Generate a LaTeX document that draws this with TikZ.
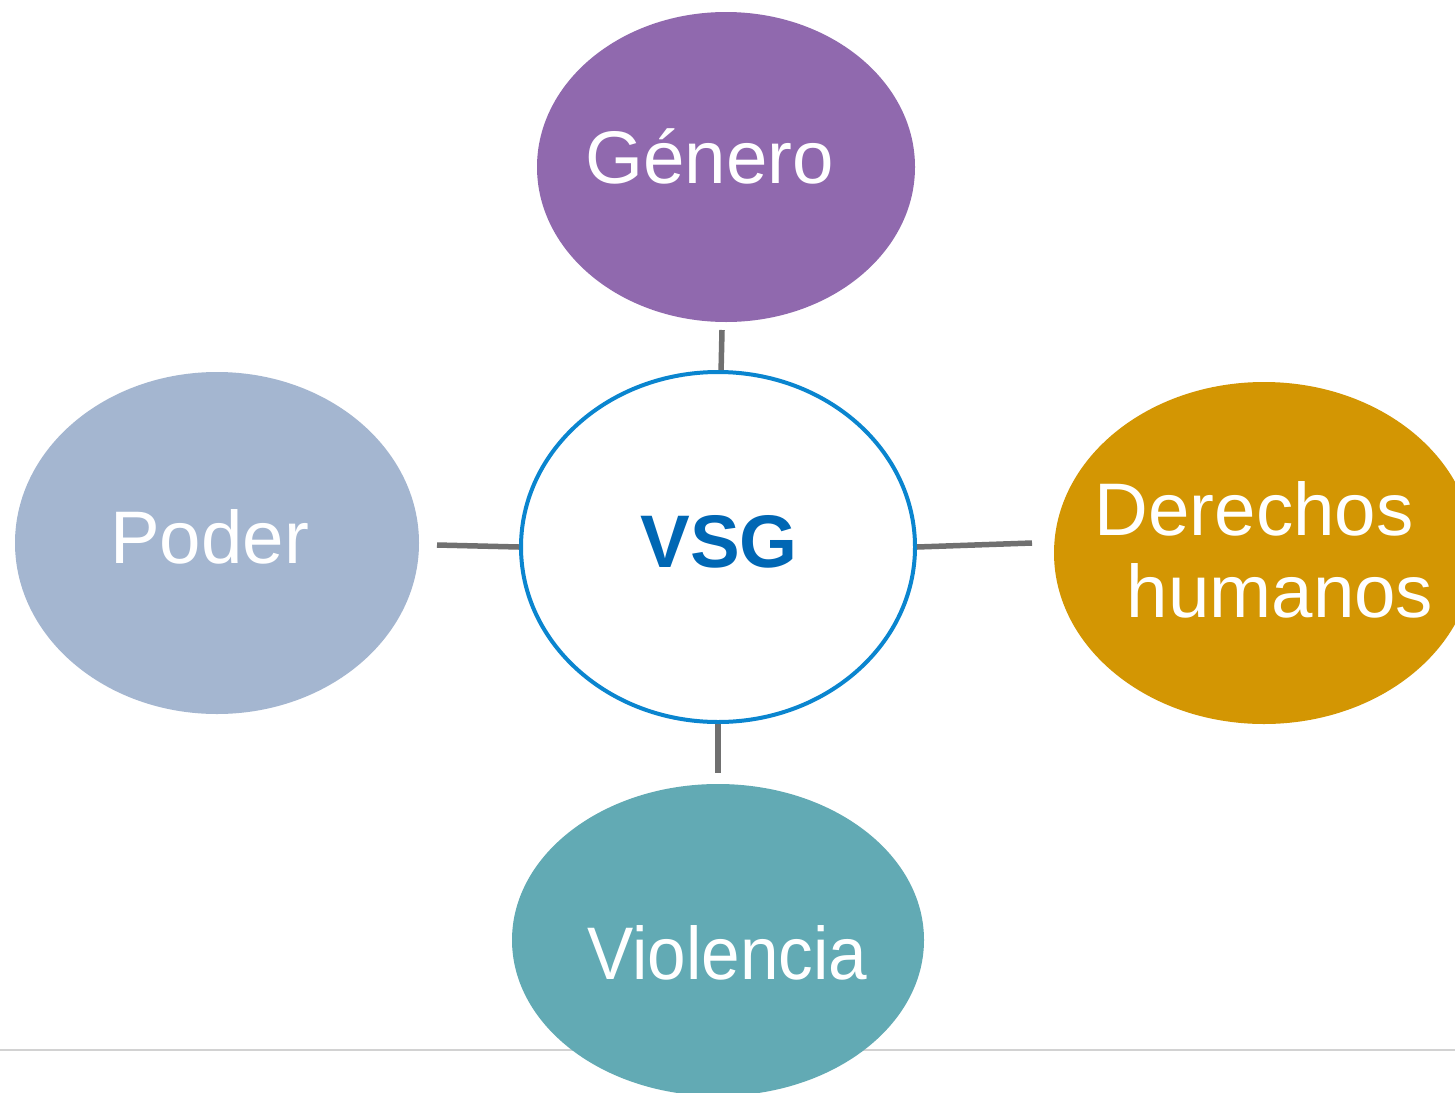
\documentclass[tikz,border=0pt]{standalone}
\usepackage{fontspec}
\setmainfont{Liberation Sans}
\usetikzlibrary{shapes.geometric}
\definecolor{cGenero}{HTML}{9069AE}
\definecolor{cPoder}{HTML}{A4B6D0}
\definecolor{cDerechos}{HTML}{D39603}
\definecolor{cViolencia}{HTML}{62AAB4}
\definecolor{cVsgLine}{HTML}{0A85CF}
\definecolor{cVsgText}{HTML}{0067B4}
\definecolor{cConn}{HTML}{707070}
\definecolor{cRule}{HTML}{D2D2D2}
\tikzset{
  blob/.style={ellipse, draw=none, inner sep=0pt, outer sep=0pt},
  lbl/.style={text=white, anchor=base, inner sep=0pt, font=\fontsize{74.5}{86}\selectfont},
  conn/.style={draw=cConn, line width=5.5pt},
}
\begin{document}
\begin{tikzpicture}[x=1pt,y=-1pt]
\useasboundingbox (0,0) rectangle (1455,1092);
\clip (0,0) rectangle (1455,1092);
\fill[white] (0,0) rectangle (1455,1092);
% thin rule near the bottom
\coordinate (ruleL) at (0,1050);
\coordinate (ruleR) at (1455,1050);
\draw[cRule, line width=1.5pt] (ruleL) -- (ruleR);
% outer ellipses
\node[blob, fill=cGenero, minimum width=378, minimum height=310] (genero) at (726,167) {};
\node[blob, fill=cPoder, minimum width=404, minimum height=342] (poder) at (217,543) {};
\node[blob, fill=cDerechos, minimum width=420, minimum height=342] (derechos) at (1264,553) {};
\node[blob, fill=cViolencia, minimum width=412, minimum height=312] (violencia) at (718,940) {};
% centre
\node[ellipse, draw=cVsgLine, line width=4pt, fill=white, inner sep=0pt, minimum width=394, minimum height=350] (vsg) at (718,547) {};
% labels
\node[lbl] (generoT) at (709.5,183) {Género};
\node[lbl] (poderT) at (209.5,563) {Poder};
\node[lbl] (derechosT) at (1254,535) {Derechos};
\node[lbl] (humanosT) at (1280,617) {humanos};
\node[lbl, xscale=0.93, transform shape] (violenciaT) at (727.5,979) {Violencia};
\node[lbl, text=cVsgText, font=\fontsize{74.5}{86}\selectfont\bfseries] (vsgT) at (719,567) {VSG};
% connectors
\coordinate (topEnd) at (722,330);
\coordinate (leftEnd) at (437,545);
\coordinate (rightEnd) at (1032,543);
\coordinate (botEnd) at (718,773);
\draw[conn] (vsg.89) -- (topEnd);
\draw[conn] (vsg.west) -- (leftEnd);
\draw[conn] (vsg.east) -- (rightEnd);
\draw[conn] (vsg.south) -- (botEnd);
\end{tikzpicture}
\end{document}
